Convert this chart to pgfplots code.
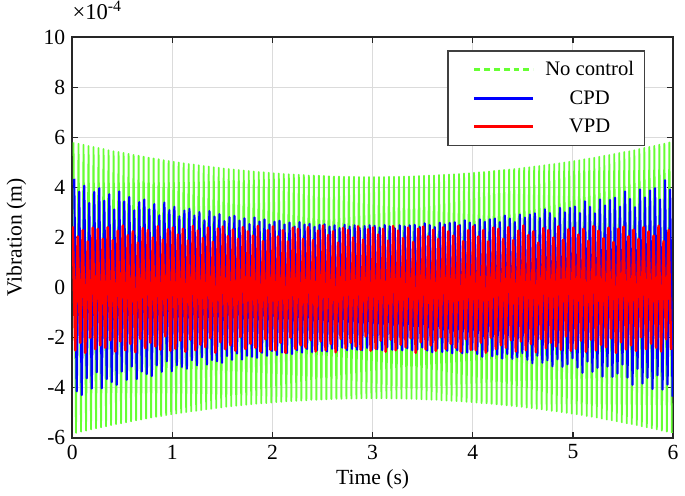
\documentclass[border=0pt]{standalone}
\usepackage{fontspec}
\setmainfont{Liberation Serif}
\usepackage{pgfplots}
\pgfplotsset{compat=1.18}
\definecolor{ncgreen}{rgb}{0.4,1,0.2}
\definecolor{axgray}{gray}{0.15}
\begin{document}
\begin{tikzpicture}
\begin{axis}[
    scale only axis,
    width=306pt, height=204pt,
    xmin=0, xmax=6, ymin=-6, ymax=10,
    clip mode=individual,
    xtick={0,1,2,3,4,5,6},
    xticklabels={0,1,2,3,4,5,6},
    ytick={-6,-4,-2,0,2,4,6,8,10},
    yticklabels={-6,-4,-2,0,2,4,6,8,10},
    tick align=inside,
    major tick length=3pt,
    tick style={axgray, line width=0.6pt},
    axis line style={axgray, line width=1pt},
    grid=major,
    grid style={gray!28, line width=0.5pt},
    ticklabel style={font=\fontsize{11}{13}\selectfont},
    label style={font=\fontsize{11}{13}\selectfont},
    xlabel={Time (s)},
    ylabel={Vibration (m)},
    xlabel style={at={(axis description cs:0.5,-0.103)}, anchor=center},
    ylabel style={at={(axis description cs:-0.093,0.5)}, anchor=center},
    legend image code/.code={
        \path[draw=none, fill=none] (0pt,0pt) -- (44pt,0pt);
        \draw[#1, line width=1.5pt] (13.5pt,0pt) -- (43.5pt,0pt);},
    legend style={
        at={(axis description cs:0.954,0.968)},
        anchor=north east,
        draw=black!75, line width=0.8pt, fill=white,
        inner xsep=0pt, inner ysep=5.3pt,
        row sep=6pt, column sep=0pt,
        nodes={inner sep=0pt, text depth=0.15em},
        font=\fontsize{10.5}{12}\selectfont,
        cells={anchor=center}
    },
]
% No control
\addplot[ncgreen, line width=0.9pt, line join=round,
    legend image post style={dash pattern=on 3pt off 2pt}] coordinates {
(0.013,5.80)(0.038,-5.80)(0.063,5.75)(0.088,-5.75)(0.113,5.71)(0.138,-5.71)(0.163,5.66)(0.188,-5.66)(0.213,5.62)(0.238,-5.62)
(0.263,5.58)(0.288,-5.58)(0.313,5.54)(0.338,-5.54)(0.363,5.49)(0.388,-5.49)(0.413,5.45)(0.438,-5.45)(0.463,5.42)(0.488,-5.42)
(0.513,5.38)(0.538,-5.38)(0.563,5.34)(0.588,-5.34)(0.613,5.30)(0.638,-5.30)(0.663,5.27)(0.688,-5.27)(0.713,5.23)(0.738,-5.23)
(0.763,5.19)(0.788,-5.19)(0.813,5.16)(0.838,-5.16)(0.863,5.13)(0.888,-5.13)(0.913,5.09)(0.938,-5.09)(0.963,5.06)(0.988,-5.06)
(1.013,5.03)(1.038,-5.03)(1.063,5.00)(1.088,-5.00)(1.113,4.97)(1.138,-4.97)(1.163,4.94)(1.188,-4.94)(1.213,4.92)(1.238,-4.92)
(1.263,4.89)(1.288,-4.89)(1.313,4.86)(1.338,-4.86)(1.363,4.84)(1.388,-4.84)(1.413,4.81)(1.438,-4.81)(1.463,4.79)(1.488,-4.79)
(1.513,4.76)(1.538,-4.76)(1.563,4.74)(1.588,-4.74)(1.613,4.72)(1.638,-4.72)(1.663,4.70)(1.688,-4.70)(1.713,4.68)(1.738,-4.68)
(1.763,4.66)(1.788,-4.66)(1.813,4.64)(1.838,-4.64)(1.863,4.62)(1.888,-4.62)(1.913,4.61)(1.938,-4.61)(1.963,4.59)(1.988,-4.59)
(2.013,4.57)(2.038,-4.57)(2.063,4.56)(2.088,-4.56)(2.113,4.54)(2.138,-4.54)(2.163,4.53)(2.188,-4.53)(2.213,4.52)(2.238,-4.52)
(2.263,4.51)(2.288,-4.51)(2.313,4.50)(2.338,-4.50)(2.363,4.48)(2.388,-4.48)(2.413,4.48)(2.438,-4.48)(2.463,4.47)(2.488,-4.47)
(2.513,4.46)(2.538,-4.46)(2.563,4.45)(2.588,-4.45)(2.613,4.44)(2.638,-4.44)(2.663,4.44)(2.688,-4.44)(2.713,4.43)(2.738,-4.43)
(2.763,4.43)(2.788,-4.43)(2.813,4.43)(2.838,-4.43)(2.863,4.42)(2.888,-4.42)(2.913,4.42)(2.938,-4.42)(2.963,4.42)(2.988,-4.42)
(3.013,4.42)(3.038,-4.42)(3.063,4.42)(3.088,-4.42)(3.113,4.42)(3.138,-4.42)(3.163,4.43)(3.188,-4.43)(3.213,4.43)(3.238,-4.43)
(3.263,4.43)(3.288,-4.43)(3.313,4.44)(3.338,-4.44)(3.363,4.44)(3.388,-4.44)(3.413,4.45)(3.438,-4.45)(3.463,4.46)(3.488,-4.46)
(3.513,4.47)(3.538,-4.47)(3.563,4.48)(3.588,-4.48)(3.613,4.48)(3.638,-4.48)(3.663,4.50)(3.688,-4.50)(3.713,4.51)(3.738,-4.51)
(3.763,4.52)(3.788,-4.52)(3.813,4.53)(3.838,-4.53)(3.863,4.54)(3.888,-4.54)(3.913,4.56)(3.938,-4.56)(3.963,4.57)(3.988,-4.57)
(4.013,4.59)(4.038,-4.59)(4.063,4.61)(4.088,-4.61)(4.113,4.62)(4.138,-4.62)(4.163,4.64)(4.188,-4.64)(4.213,4.66)(4.238,-4.66)
(4.263,4.68)(4.288,-4.68)(4.313,4.70)(4.338,-4.70)(4.363,4.72)(4.388,-4.72)(4.413,4.74)(4.438,-4.74)(4.463,4.76)(4.488,-4.76)
(4.513,4.79)(4.538,-4.79)(4.563,4.81)(4.588,-4.81)(4.613,4.84)(4.638,-4.84)(4.663,4.86)(4.688,-4.86)(4.713,4.89)(4.738,-4.89)
(4.763,4.92)(4.788,-4.92)(4.813,4.94)(4.838,-4.94)(4.863,4.97)(4.888,-4.97)(4.913,5.00)(4.938,-5.00)(4.963,5.03)(4.988,-5.03)
(5.013,5.06)(5.038,-5.06)(5.063,5.09)(5.088,-5.09)(5.113,5.13)(5.138,-5.13)(5.163,5.16)(5.188,-5.16)(5.213,5.19)(5.238,-5.19)
(5.263,5.23)(5.288,-5.23)(5.313,5.27)(5.338,-5.27)(5.363,5.30)(5.388,-5.30)(5.413,5.34)(5.438,-5.34)(5.463,5.38)(5.488,-5.38)
(5.513,5.42)(5.538,-5.42)(5.563,5.45)(5.588,-5.45)(5.613,5.49)(5.638,-5.49)(5.663,5.54)(5.688,-5.54)(5.713,5.58)(5.738,-5.58)
(5.763,5.62)(5.788,-5.62)(5.813,5.66)(5.838,-5.66)(5.863,5.71)(5.888,-5.71)(5.913,5.75)(5.938,-5.75)(5.963,5.80)(5.988,-5.80)
};
% CPD
\addplot[blue, line width=1.1pt, line join=round] coordinates {
(0.020,4.35)(0.045,-4.14)(0.070,3.83)(0.095,-4.29)(0.120,4.07)(0.145,-3.62)(0.170,3.38)(0.195,-4.03)(0.220,3.82)(0.245,-3.38)
(0.270,3.97)(0.295,-4.02)(0.320,3.47)(0.345,-3.65)(0.370,3.73)(0.395,-3.77)(0.420,3.12)(0.445,-3.88)(0.470,3.84)(0.495,-3.35)
(0.520,3.44)(0.545,-3.68)(0.570,3.62)(0.595,-3.15)(0.620,3.09)(0.645,-3.65)(0.670,3.42)(0.695,-3.35)(0.720,3.52)(0.745,-3.45)
(0.770,3.13)(0.795,-3.53)(0.820,3.34)(0.845,-3.10)(0.870,2.89)(0.895,-3.36)(0.920,3.40)(0.945,-2.94)(0.970,3.10)(0.995,-3.34)
(1.020,3.23)(1.045,-3.10)(1.070,2.85)(1.095,-3.17)(1.120,3.08)(1.145,-3.24)(1.170,3.15)(1.195,-2.90)(1.220,2.88)(1.245,-3.10)
(1.270,3.02)(1.295,-2.78)(1.320,2.69)(1.345,-3.07)(1.370,3.06)(1.395,-2.89)(1.420,2.84)(1.445,-2.94)(1.470,2.94)(1.495,-3.00)
(1.520,2.66)(1.545,-2.73)(1.570,2.82)(1.595,-2.88)(1.620,2.87)(1.645,-2.63)(1.670,2.68)(1.695,-2.87)(1.720,2.77)(1.745,-2.72)
(1.770,2.54)(1.795,-2.76)(1.820,2.80)(1.845,-2.80)(1.870,2.64)(1.895,-2.60)(1.920,2.72)(1.945,-2.72)(1.970,2.52)(1.995,-2.53)
(2.020,2.63)(2.045,-2.69)(2.070,2.67)(2.095,-2.59)(2.120,2.52)(2.145,-2.61)(2.170,2.60)(2.195,-2.65)(2.220,2.44)(2.245,-2.50)
(2.270,2.62)(2.295,-2.59)(2.320,2.52)(2.345,-2.45)(2.370,2.55)(2.395,-2.57)(2.420,2.43)(2.445,-2.50)(2.470,2.51)(2.495,-2.53)
(2.520,2.53)(2.545,-2.55)(2.570,2.44)(2.595,-2.44)(2.620,2.49)(2.645,-2.51)(2.670,2.38)(2.695,-2.40)(2.720,2.51)(2.745,-2.50)
(2.770,2.44)(2.795,-2.45)(2.820,2.49)(2.845,-2.48)(2.870,2.38)(2.895,-2.50)(2.920,2.46)(2.945,-2.41)(2.970,2.49)(2.995,-2.48)
(3.020,2.47)(3.045,-2.46)(3.070,2.40)(3.095,-2.50)(3.120,2.50)(3.145,-2.38)(3.170,2.45)(3.195,-2.48)(3.220,2.38)(3.245,-2.43)
(3.270,2.49)(3.295,-2.50)(3.320,2.45)(3.345,-2.42)(3.370,2.49)(3.395,-2.50)(3.420,2.51)(3.445,-2.47)(3.470,2.43)(3.495,-2.39)
(3.520,2.57)(3.545,-2.51)(3.570,2.50)(3.595,-2.58)(3.620,2.42)(3.645,-2.43)(3.670,2.59)(3.695,-2.57)(3.720,2.52)(3.745,-2.52)
(3.770,2.58)(3.795,-2.62)(3.820,2.61)(3.845,-2.50)(3.870,2.50)(3.895,-2.62)(3.920,2.69)(3.945,-2.59)(3.970,2.60)(3.995,-2.48)
(4.020,2.51)(4.045,-2.65)(4.070,2.73)(4.095,-2.76)(4.120,2.63)(4.145,-2.54)(4.170,2.73)(4.195,-2.74)(4.220,2.76)(4.245,-2.67)
(4.270,2.62)(4.295,-2.83)(4.320,2.88)(4.345,-2.65)(4.370,2.76)(4.395,-2.84)(4.420,2.62)(4.445,-2.78)(4.470,2.92)(4.495,-2.62)
(4.520,2.80)(4.545,-2.88)(4.570,2.92)(4.595,-3.02)(4.620,2.97)(4.645,-2.72)(4.670,2.78)(4.695,-3.00)(4.720,3.13)(4.745,-2.90)
(4.770,2.98)(4.795,-3.14)(4.820,2.78)(4.845,-2.86)(4.870,3.19)(4.895,-3.16)(4.920,3.01)(4.945,-3.06)(4.970,3.19)(4.995,-2.82)
(5.020,3.24)(5.045,-3.19)(5.070,2.98)(5.095,-3.40)(5.120,3.45)(5.145,-2.95)(5.170,3.23)(5.195,-3.36)(5.220,2.97)(5.245,-3.20)
(5.270,3.52)(5.295,-3.55)(5.320,3.28)(5.345,-3.15)(5.370,3.50)(5.395,-3.56)(5.420,3.59)(5.445,-3.43)(5.470,3.23)(5.495,-3.07)
(5.520,3.84)(5.545,-3.59)(5.570,3.54)(5.595,-3.88)(5.620,3.21)(5.645,-3.24)(5.670,3.92)(5.695,-3.83)(5.720,3.60)(5.745,-3.60)
(5.770,3.88)(5.795,-4.05)(5.820,3.97)(5.845,-3.50)(5.870,3.52)(5.895,-4.07)(5.920,4.29)(5.945,-3.87)(5.970,3.92)(5.995,-4.35)
};
% VPD
\addplot[red, line width=1.3pt, line join=round] coordinates {
(0.005,2.45)(0.030,-2.50)(0.055,2.05)(0.080,-2.20)(0.105,2.30)(0.130,-2.60)(0.155,1.85)(0.180,-2.00)(0.205,2.40)(0.230,-2.45)
(0.255,2.35)(0.280,-2.30)(0.305,1.95)(0.330,-2.40)(0.355,2.42)(0.380,-2.10)(0.405,1.90)(0.430,-2.55)(0.455,2.28)(0.480,-2.15)
(0.505,2.48)(0.530,-2.50)(0.555,2.10)(0.580,-2.25)(0.605,2.25)(0.630,-2.58)(0.655,1.80)(0.680,-2.05)(0.705,2.38)(0.730,-2.42)
(0.755,2.30)(0.780,-2.20)(0.805,2.00)(0.830,-2.35)(0.855,2.45)(0.880,-2.48)(0.905,1.92)(0.930,-1.95)(0.955,2.33)(0.980,-2.52)
(1.005,2.40)(1.030,-2.44)(1.055,2.12)(1.080,-2.12)(1.105,2.35)(1.130,-2.56)(1.155,1.88)(1.180,-2.08)(1.205,2.46)(1.230,-2.50)
(1.255,2.28)(1.280,-2.28)(1.305,1.98)(1.330,-2.38)(1.355,2.40)(1.380,-2.02)(1.405,1.83)(1.430,-2.60)(1.455,2.36)(1.480,-2.18)
(1.505,2.44)(1.530,-2.46)(1.555,2.06)(1.580,-2.30)(1.605,2.32)(1.630,-2.52)(1.655,1.95)(1.680,-1.98)(1.705,2.42)(1.730,-2.45)
(1.755,2.25)(1.780,-2.24)(1.805,2.08)(1.830,-2.40)(1.855,2.47)(1.880,-2.55)(1.905,1.86)(1.930,-2.06)(1.955,2.30)(1.980,-2.48)
(2.005,2.45)(2.030,-2.50)(2.055,2.05)(2.080,-2.20)(2.105,2.30)(2.130,-2.60)(2.155,1.85)(2.180,-2.00)(2.205,2.40)(2.230,-2.45)
(2.255,2.35)(2.280,-2.30)(2.305,1.95)(2.330,-2.40)(2.355,2.42)(2.380,-2.10)(2.405,1.90)(2.430,-2.55)(2.455,2.28)(2.480,-2.15)
(2.505,2.48)(2.530,-2.50)(2.555,2.10)(2.580,-2.25)(2.605,2.25)(2.630,-2.58)(2.655,1.80)(2.680,-2.05)(2.705,2.38)(2.730,-2.42)
(2.755,2.30)(2.780,-2.20)(2.805,2.00)(2.830,-2.35)(2.855,2.45)(2.880,-2.48)(2.905,1.92)(2.930,-1.95)(2.955,2.33)(2.980,-2.52)
(3.005,2.40)(3.030,-2.44)(3.055,2.12)(3.080,-2.12)(3.105,2.35)(3.130,-2.56)(3.155,1.88)(3.180,-2.08)(3.205,2.46)(3.230,-2.50)
(3.255,2.28)(3.280,-2.28)(3.305,1.98)(3.330,-2.38)(3.355,2.40)(3.380,-2.02)(3.405,1.83)(3.430,-2.60)(3.455,2.36)(3.480,-2.18)
(3.505,2.44)(3.530,-2.46)(3.555,2.06)(3.580,-2.30)(3.605,2.32)(3.630,-2.52)(3.655,1.95)(3.680,-1.98)(3.705,2.42)(3.730,-2.45)
(3.755,2.25)(3.780,-2.24)(3.805,2.08)(3.830,-2.40)(3.855,2.47)(3.880,-2.55)(3.905,1.86)(3.930,-2.06)(3.955,2.30)(3.980,-2.48)
(4.005,2.45)(4.030,-2.50)(4.055,2.05)(4.080,-2.20)(4.105,2.30)(4.130,-2.60)(4.155,1.85)(4.180,-2.00)(4.205,2.40)(4.230,-2.45)
(4.255,2.35)(4.280,-2.30)(4.305,1.95)(4.330,-2.40)(4.355,2.42)(4.380,-2.10)(4.405,1.90)(4.430,-2.55)(4.455,2.28)(4.480,-2.15)
(4.505,2.48)(4.530,-2.50)(4.555,2.10)(4.580,-2.25)(4.605,2.25)(4.630,-2.58)(4.655,1.80)(4.680,-2.05)(4.705,2.38)(4.730,-2.42)
(4.755,2.30)(4.780,-2.20)(4.805,2.00)(4.830,-2.35)(4.855,2.45)(4.880,-2.48)(4.905,1.92)(4.930,-1.95)(4.955,2.33)(4.980,-2.52)
(5.005,2.40)(5.030,-2.44)(5.055,2.12)(5.080,-2.12)(5.105,2.35)(5.130,-2.56)(5.155,1.88)(5.180,-2.08)(5.205,2.46)(5.230,-2.50)
(5.255,2.28)(5.280,-2.28)(5.305,1.98)(5.330,-2.38)(5.355,2.40)(5.380,-2.02)(5.405,1.83)(5.430,-2.60)(5.455,2.36)(5.480,-2.18)
(5.505,2.44)(5.530,-2.46)(5.555,2.06)(5.580,-2.30)(5.605,2.32)(5.630,-2.52)(5.655,1.95)(5.680,-1.98)(5.705,2.42)(5.730,-2.45)
(5.755,2.25)(5.780,-2.24)(5.805,2.08)(5.830,-2.40)(5.855,2.47)(5.880,-2.55)(5.905,1.86)(5.930,-2.06)(5.955,2.30)(5.980,-2.48)
};
\legend{\makebox[56pt]{No control},\makebox[56pt]{CPD},\makebox[56pt]{VPD}}
\node[anchor=base west, inner sep=0pt, yshift=9pt, font=\fontsize{11.5}{13}\selectfont]
    at (rel axis cs:0,1) {×10\textsuperscript{-4}};
\end{axis}
\path ([xshift=-34pt,yshift=-27.5pt]current axis.south west)
    rectangle ([xshift=2.5pt,yshift=19pt]current axis.north east);
\end{tikzpicture}
\end{document}
